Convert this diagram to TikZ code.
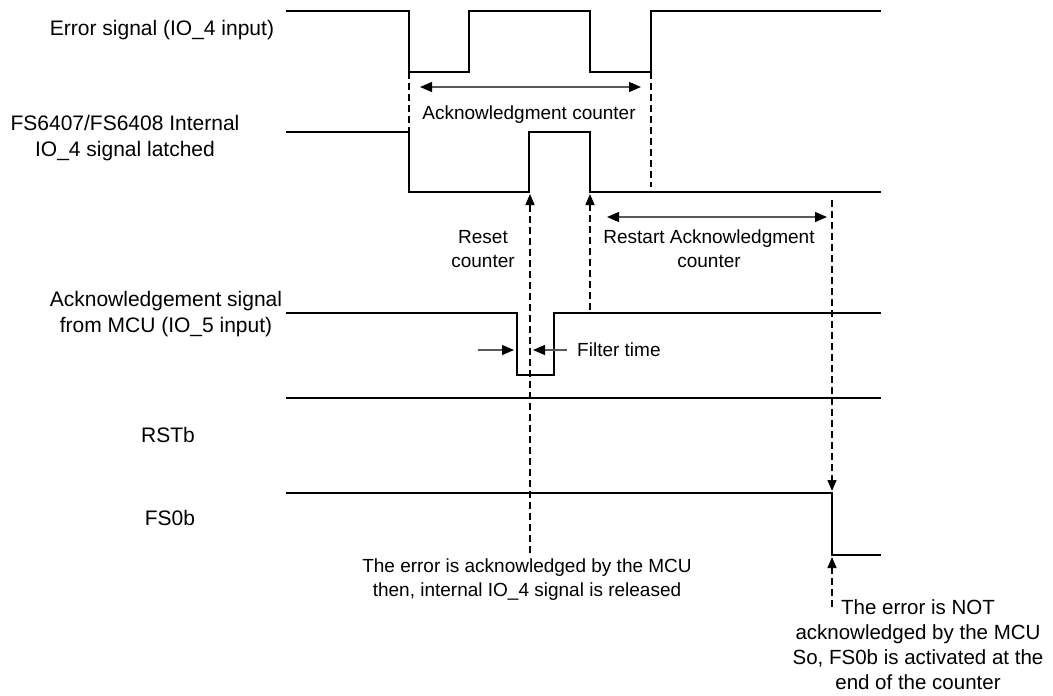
\documentclass[tikz,border=0pt]{standalone}
\usepackage{fontspec}
\setmainfont{Liberation Sans}
\usetikzlibrary{arrows.meta}
\tikzset{
  sig/.style={line width=1.5pt, line join=miter, line cap=rect},
  guide/.style={line width=1.4pt, dash pattern=on 7pt off 4pt},
  guidearrow/.style={guide, -{Triangle[length=11pt,width=9pt]}},
  dimarrow/.style={line width=1.3pt, draw=black!65, {Triangle[length=12pt,width=10pt,color=black]}-{Triangle[length=12pt,width=10pt,color=black]}},
  onearrow/.style={line width=1.3pt, draw=black!65, -{Triangle[length=12pt,width=10pt,color=black]}},
  lbl/.style={font=\fontsize{21}{25.5}\selectfont, align=center, inner sep=0pt},
  ann/.style={font=\fontsize{19}{24}\selectfont, align=center, inner sep=0pt},
  annr/.style={font=\fontsize{20.5}{25}\selectfont, align=center, inner sep=0pt},
}
\begin{document}
\begin{tikzpicture}[x=1pt,y=-1pt]
\useasboundingbox (0,0) rectangle (1053,696);

% key coordinates
\coordinate (eA) at (409,72);
\coordinate (iA) at (409,132);
\coordinate (eB) at (651,72);
\coordinate (iB) at (651,187);
\coordinate (rs0) at (530,553);
\coordinate (rs1) at (530,194);
\coordinate (re0) at (590,310);
\coordinate (re1) at (590,194);
\coordinate (nd0) at (832,200);
\coordinate (nd1) at (832,491);
\coordinate (nu0) at (832,607);
\coordinate (nu1) at (832,557);
\coordinate (ac0) at (420,87);
\coordinate (ac1) at (641,87);
\coordinate (rc0) at (607,217);
\coordinate (rc1) at (827,217);
\coordinate (fl0) at (478,350);
\coordinate (fl1) at (514,350);
\coordinate (fr0) at (567,350);
\coordinate (fr1) at (533,350);

% signals
\draw[sig] (287,11) -- (409,11) -- (409,72) -- (469,72) -- (469,11) -- (590,11) -- (590,72) -- (651,72) -- (651,11) -- (880,11);
\draw[sig] (287,132) -- (409,132) -- (409,192) -- (529,192) -- (529,132) -- (590,132) -- (590,192) -- (880,192);
\draw[sig] (287,313) -- (517,313) -- (517,375) -- (554,375) -- (554,313) -- (880,313);
\draw[sig] (287,398) -- (880,398);
\draw[sig] (287,493) -- (832,493) -- (832,555) -- (880,555);

% dashed guides
\draw[guide] (eA) -- (iA);
\draw[guide] (eB) -- (iB);
\draw[guidearrow] (rs0) -- (rs1);
\draw[guidearrow] (re0) -- (re1);
\draw[guidearrow] (nd0) -- (nd1);
\draw[guidearrow] (nu0) -- (nu1);

% dimension arrows
\draw[dimarrow] (ac0) -- (ac1);
\draw[dimarrow] (rc0) -- (rc1);
\draw[onearrow] (fl0) -- (fl1);
\draw[onearrow] (fr0) -- (fr1);

% left labels
\node[lbl] (l1) at (162,30) {Error signal (IO\_4 input)};
\node[lbl] (l2) at (125,138) {FS6407/FS6408 Internal\\IO\_4 signal latched};
\node[lbl] (l3) at (166,314) {Acknowledgement signal\\from MCU (IO\_5 input)};
\node[lbl] (l4) at (168,435) {RSTb};
\node[lbl] (l5) at (170,518) {FS0b};

% annotations
\node[ann] (a1) at (529,115) {Acknowledgment counter};
\node[ann] (a2) at (483,249) {Reset\\counter};
\node[ann] (a3) at (709,249) {Restart Acknowledgment\\counter};
\node[ann, anchor=west] (a4) at (577,350) {Filter time};
\node[ann] (a5) at (527,580) {The error is acknowledged by the MCU\\then, internal IO\_4 signal is released};
\node[annr] (a6) at (918,645) {The error is NOT\\acknowledged by the MCU\\So, FS0b is activated at the\\end of the counter};
\end{tikzpicture}
\end{document}
